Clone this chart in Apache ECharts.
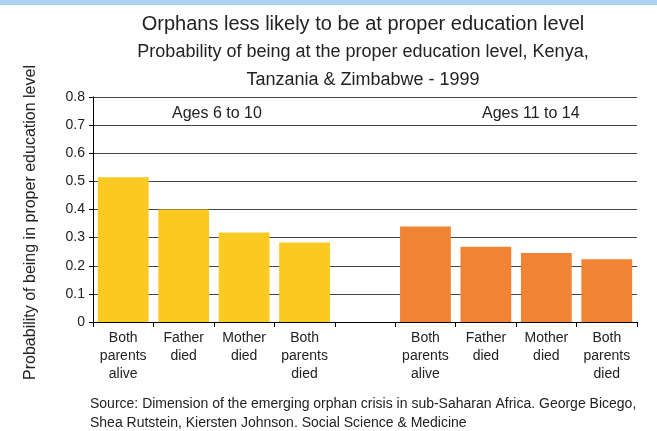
<!DOCTYPE html>
<html>
<head>
<meta charset="utf-8">
<script src="https://cdn.jsdelivr.net/npm/echarts@6/dist/echarts.min.js"></script>
<style>
    html, body {margin: 0; padding: 0; background: #fff;}
    #chart {width: 657px; height: 431px; border-top: 5px solid #a9d3f0; box-sizing: border-box;}
</style>
</head>
<body>
<div id="chart"></div>
<script>
    const categories = [
        'Both\nparents\nalive', 'Father\ndied', 'Mother\ndied', 'Both\nparents\ndied',
        '',
        'Both\nparents\nalive', 'Father\ndied', 'Mother\ndied', 'Both\nparents\ndied'
    ];
    const ages6to10 = [0.515, 0.4, 0.318, 0.283, '-', '-', '-', '-', '-'];
    const ages11to14 = ['-', '-', '-', '-', '-', 0.34, 0.268, 0.245, 0.223];
    const yTicks = {min: 0, max: 0.8, interval: 0.1};
    const titleLines = ['Orphans less likely to be at proper education level',
        'Probability of being at the proper education level, Kenya,',
        'Tanzania & Zimbabwe - 1999'];
    const groupLabels = ['Ages 6 to 10', 'Ages 11 to 14'];
    const source = 'Source: Dimension of the emerging orphan crisis in sub-Saharan Africa. George Bicego,\nShea Rutstein, Kiersten Johnson. Social Science & Medicine';

    const font = "'Liberation Sans Narrow', 'Arial Narrow', 'Liberation Sans', Arial, sans-serif";
    const chart = echarts.init(document.getElementById('chart'));

    const option = {
        animation: false,
        textStyle: {fontFamily: font},
        title: [
            {
                text: titleLines[0],
                left: 358, top: 4, textAlign: 'center',
                textStyle: {fontFamily: font, fontSize: 20, fontWeight: 'normal', color: '#222'}
            },
            {
                text: titleLines[1] + '\n' + titleLines[2],
                left: 358, top: 28, textAlign: 'center',
                textStyle: {fontFamily: font, fontSize: 18, fontWeight: 'normal', color: '#222', lineHeight: 28}
            }
        ],
        grid: {left: 93, right: 20, top: 92, bottom: 109, containLabel: false},
        xAxis: {
            type: 'category',
            data: categories,
            axisLine: {lineStyle: {color: '#000', width: 1}},
            axisTick: {show: true, length: 5, lineStyle: {color: '#000'}},
            axisLabel: {
                interval: 0, color: '#222', fontSize: 14, lineHeight: 18, margin: 7,
                fontFamily: font
            }
        },
        yAxis: {
            type: 'value',
            min: yTicks.min, max: yTicks.max, interval: yTicks.interval,
            name: 'Probability of being in proper education level',
            nameLocation: 'middle',
            nameGap: 54,
            nameTextStyle: {fontSize: 16, color: '#222', fontFamily: font, padding: [0, 26, 0, 0]},
            axisLine: {show: true, lineStyle: {color: '#000'}},
            axisTick: {show: true, length: 4, lineStyle: {color: '#000'}},
            axisLabel: {color: '#222', fontSize: 14, margin: 8, fontFamily: font},
            splitLine: {lineStyle: {color: '#444', width: 1}}
        },
        series: [
            {
                name: groupLabels[0],
                type: 'bar',
                data: ages6to10,
                barCategoryGap: '16%',
                barGap: '-100%',
                itemStyle: {color: '#fac922'}
            },
            {
                name: groupLabels[1],
                type: 'bar',
                data: ages11to14,
                barCategoryGap: '16%',
                barGap: '-100%',
                itemStyle: {color: '#f08434'}
            }
        ],
        graphic: [
            {
                type: 'text', left: 172, top: 101,
                style: {text: groupLabels[0], fontSize: 16, fill: '#222', fontFamily: font}
            },
            {
                type: 'text', left: 482, top: 101,
                style: {text: groupLabels[1], fontSize: 16, fill: '#222', fontFamily: font}
            },
            {
                type: 'text', left: 90, top: 390,
                style: {text: source, fontSize: 14, lineHeight: 19, fill: '#222', fontFamily: font}
            }
        ]
    };
    chart.setOption(option);
</script>
</body>
</html>
